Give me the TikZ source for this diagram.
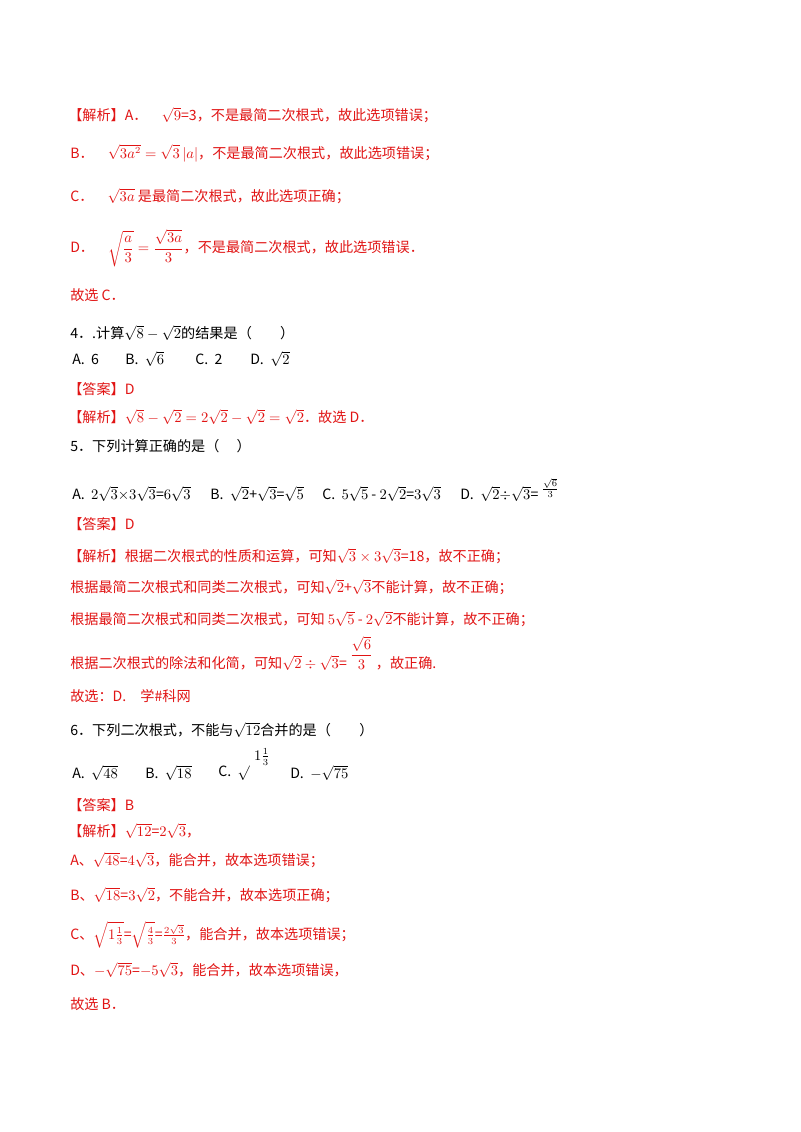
\documentclass[tikz,border=0pt]{standalone}
\usepackage{fontspec}
\usepackage{amsmath}
\setmainfont{Liberation Serif}
\newfontfamily\cjk{Noto Sans CJK SC}
\definecolor{ans}{RGB}{225,20,20}
\tikzset{txt/.style={anchor=west,inner sep=0pt,font=\cjk\fontsize{10.6pt}{12pt}\selectfont},
 red/.style={txt,text=ans}, blk/.style={txt,text=black}}
\begin{document}
\begin{tikzpicture}[x=0.75pt,y=-0.75pt]
\useasboundingbox[fill=white] (0,0) rectangle (800,1132);
\node[red] (a1) at (68,115) {【解析】A．\quad$\sqrt{9}$=3，不是最简二次根式，故此选项错误；};
\node[red] (a2) at (70,153) {B．\quad$\sqrt{3a^2}=\sqrt{3}\,|a|$，不是最简二次根式，故此选项错误；};
\node[red] (a3) at (70,196) {C．\quad$\sqrt{3a}$ 是最简二次根式，故此选项正确；};
\node[red] (a4) at (70,248) {D．\quad$\sqrt{\dfrac{a}{3}}=\dfrac{\sqrt{3a}}{3}$，不是最简二次根式，故此选项错误．};
\node[red] (a5) at (70,295) {故选 C．};
\node[blk] (q4) at (70,333) {4．.计算$\sqrt{8}-\sqrt{2}$的结果是（\quad\quad）};
\node[blk] (q4a) at (72,359) {A.\ \ 6};
\node[blk] (q4b) at (125,359) {B.\ \ $\sqrt{6}$};
\node[blk] (q4c) at (195,359) {C.\ \ 2};
\node[blk] (q4d) at (250,359) {D.\ \ $\sqrt{2}$};
\node[red] (d4) at (68,389) {【答案】D};
\node[red] (j4) at (68,417) {【解析】$\sqrt{8}-\sqrt{2}=2\sqrt{2}-\sqrt{2}=\sqrt{2}$．故选 D．};
\node[blk] (q5) at (70,446) {5．下列计算正确的是（\quad\ ）};
\node[blk] (q5a) at (72,494) {A.\ \ $2\sqrt{3}{\times}3\sqrt{3}$=$6\sqrt{3}$};
\node[blk] (q5b) at (210,494) {B.\ \ $\sqrt{2}$+$\sqrt{3}$=$\sqrt{5}$};
\node[blk] (q5c) at (322,494) {C.\ \ $5\sqrt{5}$ - $2\sqrt{2}$=$3\sqrt{3}$};
\node[blk] (q5d) at (460,494) {D.\ \ $\sqrt{2}{\div}\sqrt{3}$=};
\node[blk,anchor=south west] (q5f) at ([xshift=2pt,yshift=-3pt]q5d.east) {$\frac{\sqrt{6}}{3}$};
\node[red] (d5) at (68,524) {【答案】D};
\node[red] (j5) at (68,556) {【解析】根据二次根式的性质和运算，可知$\sqrt{3}\times3\sqrt{3}$=18，故不正确；};
\node[red] (j5b) at (70,587) {根据最简二次根式和同类二次根式，可知$\sqrt{2}$+$\sqrt{3}$不能计算，故不正确；};
\node[red] (j5c) at (70,619) {根据最简二次根式和同类二次根式，可知 $5\sqrt{5}$ - $2\sqrt{2}$不能计算，故不正确；};
\node[red] (j5d) at (70,663) {根据二次根式的除法和化简，可知$\sqrt{2}\div\sqrt{3}$=};
\node[red,anchor=south west] (j5f) at ([xshift=2pt,yshift=-5pt]j5d.east) {$\dfrac{\sqrt{6}}{3}$};
\node[red,anchor=west] (j5g) at ([xshift=2pt]j5f.east |- j5d.west) {，故正确.};
\node[red] (x5) at (70,696) {故选：D.\quad 学\#科网};
\node[blk] (q6) at (70,730) {6．下列二次根式，不能与$\sqrt{12}$合并的是（\quad\quad）};
\node[blk] (q6a) at (72,773) {A.\ \ $\sqrt{48}$};
\node[blk] (q6b) at (145,773) {B.\ \ $\sqrt{18}$};
\node[blk] (q6c) at (218,773) {C.\ \ $\surd$};
\node[blk,anchor=center] (q6cf) at (262,757) {$1\frac{1}{3}$};
\node[blk] (q6d) at (290,773) {D.\ \ $-\sqrt{75}$};
\node[red] (d6) at (68,805) {【答案】B};
\node[red] (j6) at (68,831) {【解析】$\sqrt{12}$=$2\sqrt{3}$，};
\node[red] (j6a) at (70,860) {A、$\sqrt{48}$=$4\sqrt{3}$，能合并，故本选项错误；};
\node[red] (j6b) at (70,895) {B、$\sqrt{18}$=$3\sqrt{2}$，不能合并，故本选项正确；};
\node[red] (j6c) at (70,935) {C、$\sqrt{1\tfrac{1}{3}}$=$\sqrt{\tfrac{4}{3}}$=$\tfrac{2\sqrt{3}}{3}$，能合并，故本选项错误；};
\node[red] (j6d) at (70,970) {D、$-\sqrt{75}$=$-5\sqrt{3}$，能合并，故本选项错误，};
\node[red] (x6) at (70,1004) {故选 B．};
\end{tikzpicture}
\end{document}
